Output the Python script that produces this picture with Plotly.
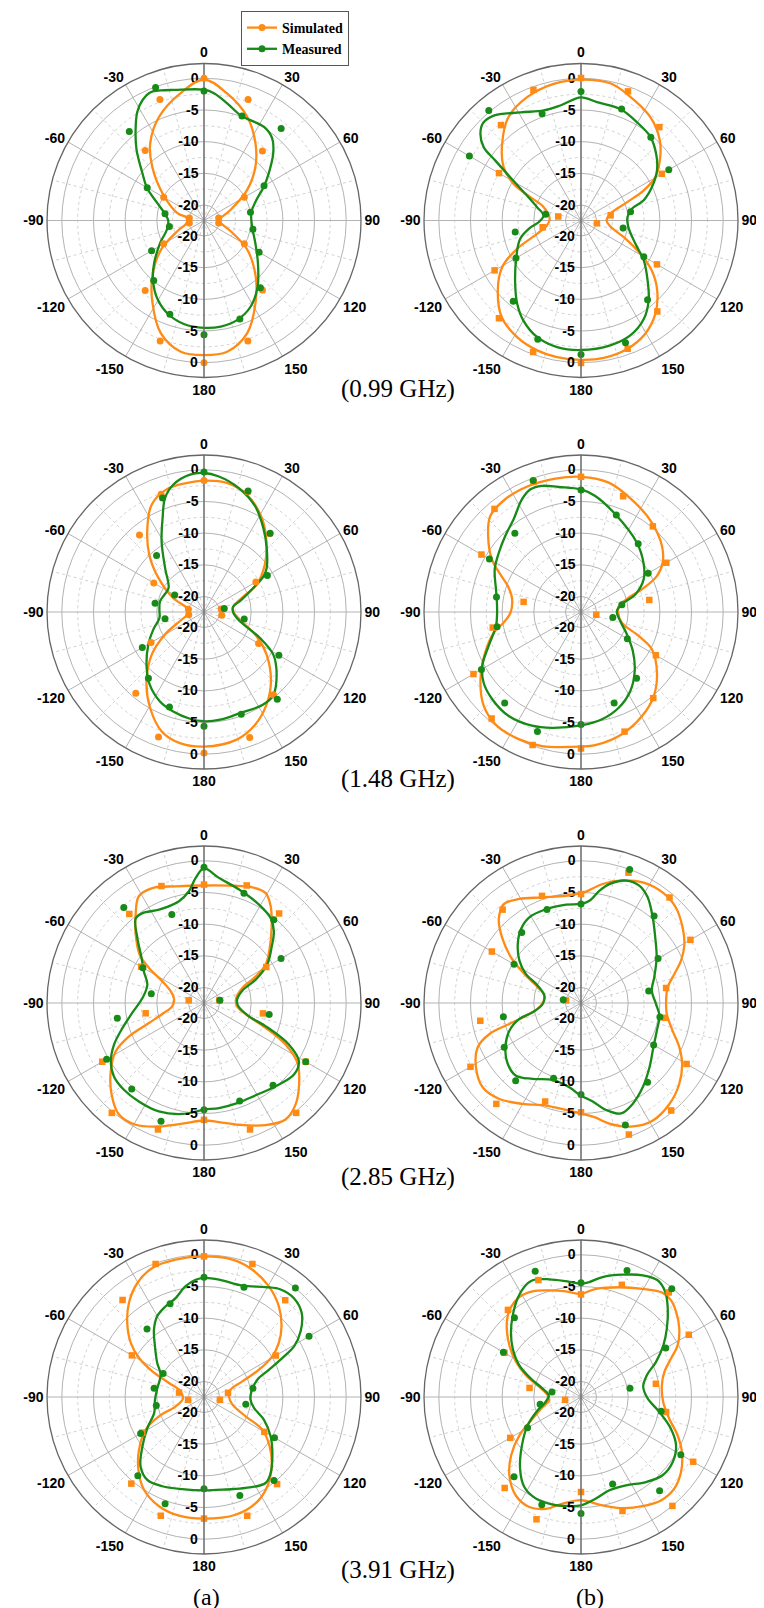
import plotly.graph_objects as go

# ---------------- data (theta in degrees, clockwise from top; r in dB) ----------------
MARK_T = [0, 20, 40, 60, 80, 100, 120, 140, 160, 180, 200, 220, 240, 260, 280, 300, 320, 340]
ANG_T = [0, 30, 60, 90, 120, 150, 180, 210, 240, 270, 300, 330]
ANG_L = ["0", "30", "60", "90", "120", "150", "180", "-150", "-120", "-90", "-60", "-30"]
RAD_T = [-20, -15, -10, -5, 0]
RAD_L = ["-20", "-15", "-10", "-5", "0"]
RAD_MINOR = [-17.5, -12.5, -7.5, -2.5]
ANG_MINOR = [15, 45, 75, 105, 135, 165, 195, 225, 255, 285, 315, 345]
CAPTIONS = ["(0.99 GHz)", "(1.48 GHz)", "(2.85 GHz)", "(3.91 GHz)"]
COL_LABELS = ["(a)", "(b)"]

# ---- 0.99 GHz, (a)
A1_SIM_T = [0, 10, 22.6, 33.7, 43.7, 54.7, 68, 80, 90, 100, 112, 124, 137.3, 148, 159, 170, 180,
            -170, -159, -148, -137, -124, -112, -100, -90, -80, -74.6, -56.7, -43.7, -34.9, -23.4, -10.4, 0]
A1_SIM_R = [-0.2, -2.0, -4.7, -7.8, -10.7, -14.1, -17.9, -19.7, -20.2, -19.7, -17.9, -14.2, -10.4, -7.1, -3.4, -1.4, -1.2,
            -1.4, -3.4, -7.1, -10.5, -14.3, -17.9, -19.6, -19.8, -19.6, -18.1, -14.6, -10.6, -7.6, -4.6, -2.0, -0.2]
A1_SIM_M = [0.0, -2.1, -8.1, -15.1, -20.1, -20.1, -15.1, -8.1, -2.2, 0.0, -2.2, -8.0, -15.1, -20.1, -20.1, -15.1, -8.0, -2.1]
A1_MEA_T = [0, 4.5, 11.2, 19.6, 32.7, 39.7, 45.8, 53.9, 60.5, 70, 81, 97, 113.7, 128.3, 141, 151.5, 161.4, 171, 180,
            -169, -158.4, -149, -139.3, -130.5, -117, -104, -90, -79.4, -69.6, -60.3, -52.5, -43.6, -37, -31.5, -27, -22.6, -18.4, -12.9, 0]
A1_MEA_R = [-1.8, -2.3, -3.6, -4.9, -4.9, -5.6, -7.2, -9.8, -11.6, -13.8, -14.9, -14.8, -13.6, -11.6, -9.0, -7.0, -5.9, -5.5, -5.5,
            -5.8, -6.7, -8.1, -10.1, -12.1, -14.7, -16.4, -16.8, -16.1, -14.6, -12.1, -10.2, -7.0, -4.5, -2.3, -1.1, -0.5, -0.8, -1.3, -1.8]
A1_MEA_M = [-2.0, -4.9, -3.5, -11.5, -15.0, -14.6, -12.4, -8.6, -5.9, -4.4, -6.7, -10.1, -12.9, -16.9, -16.2, -12.1, -4.1, -0.1]

# ---- 0.99 GHz, (b)
B1_SIM_T = [0, 12, 20, 33.9, 44.5, 52.7, 59.8, 64.4, 68.3, 77, 90, 101.6, 111.3, 119.3, 125.2, 132.6, 141.5, 150.4, 160.3, 170.6, 180,
            -170, -161.3, -151.3, -140.7, -130, -120.6, -113.9, -106.9, -98.4, -87, -70.3, -65.3, -61.4, -55.4, -45.9, -35, -23.6, -11.3, 0]
B1_SIM_R = [-0.2, -0.3, -1.2, -2.8, -4.7, -6.8, -8.9, -11.5, -14.6, -17.7, -18.4, -17.7, -15.2, -11.7, -8.8, -6.1, -3.6, -1.9, -0.9, -0.45, -0.45,
            -0.55, -0.8, -1.45, -2.7, -5.3, -8.0, -11.4, -15.2, -17.0, -17.5, -16.2, -13.7, -10.3, -7.6, -5.1, -2.5, -1.2, -0.45, -0.2]
B1_SIM_M = [0.05, -0.75, -3.2, -7.7, -17.7, -19.9, -8.6, -3.7, -0.9, 0.05, -0.35, -2.3, -6.7, -16.3, -18.8, -7.5, -2.8, -0.5]
B1_MEA_T = [0, 7.7, 19.4, 29.7, 39.8, 48.5, 56.7, 64.9, 72.3, 77.1, 86, 98, 113.2, 122.5, 132, 139.8, 147.5, 156.8, 166.8, 180,
            -169.3, -159.3, -150.2, -142.5, -134, -119.6, -106.8, -99, -92, -82.4, -73.1, -64.4, -58.5, -55, -53, -49.3, -45.2, -39.8, -29.2, -18.7, -10.2, 0]
B1_MEA_R = [-3.0, -3.6, -3.8, -4.6, -5.3, -6.6, -8.1, -10.1, -12.1, -14.2, -15.1, -14.9, -13.1, -10.7, -8.3, -5.9, -4.0, -2.7, -2.2, -2.0,
            -2.1, -2.8, -4.2, -5.9, -8.0, -10.7, -12.4, -14.1, -15.8, -16.5, -15.2, -12.7, -9.3, -5.9, -3.2, -1.5, -0.65, -0.9, -2.9, -4.1, -4.0, -3.0]
B1_MEA_M = [-2.1, -3.7, -5.3, -6.45, -14.5, -15.7, -11.0, -6.1, -1.9, -1.3, -2.5, -5.8, -10.6, -11.9, -16.8, -2.1, 0.2, -4.5]

# ---- 1.48 GHz, (a)
A2_SIM_T = [0, 10, 20, 31.5, 41.6, 52.2, 62.6, 69.6, 80.3, 90, 102, 114.8, 124.2, 136.1, 146, 155.6, 165.6, 180,
            -169.6, -160.5, -150.6, -140.4, -129.2, -120, -109, -94, -77, -65.5, -53.3, -43.6, -34, -26, -17, -7.7, 0]
A2_SIM_R = [-1.7, -1.75, -2.7, -5.0, -7.6, -10.3, -13.1, -16.1, -17.8, -17.8, -16.7, -13.3, -10.5, -7.2, -4.8, -2.9, -1.65, -1.2,
            -1.4, -2.45, -5.1, -8.2, -11.8, -15.3, -18.7, -20.0, -19.7, -17.1, -13.5, -9.9, -6.45, -3.6, -2.2, -1.9, -1.7]
A2_SIM_M = [-1.7, -2.25, -6.3, -13.0, -19.7, -19.6, -12.5, -5.4, -1.35, -0.2, -1.45, -5.7, -12.8, -20.0, -19.95, -13.3, -6.6, -2.65]
A2_MEA_T = [0, 6, 15.5, 25.8, 35.2, 44.4, 54.9, 59, 64, 71.9, 80.3, 92, 104.5, 114.9, 121.6, 130.8, 140, 147.4, 160.4, 171.5, 180,
            -172.5, -162.8, -153.8, -143.4, -134.3, -120.4, -109, -97.7, -87, -76.4, -67.4, -56, -41.6, -31, -23.7, -18.9, -13.5, -5.8, 0]
A2_MEA_R = [-0.5, -0.9, -2.1, -3.9, -6.2, -8.3, -10.35, -11.5, -13.8, -16.2, -17.8, -17.8, -16.6, -12.7, -9.6, -7.3, -5.4, -5.1, -5.5, -5.25, -5.2,
            -5.45, -6.0, -6.7, -8.1, -9.8, -12.25, -14.0, -15.35, -15.4, -15.3, -15.6, -15.7, -13.2, -9.45, -6.2, -3.45, -1.75, -0.65, -0.5]
A2_MEA_M = [-0.35, -2.1, -6.2, -10.9, -19.2, -16.0, -8.8, -4.45, -5.25, -4.4, -6.5, -8.8, -11.2, -16.2, -14.6, -17.1, -10.8, -3.3]

# ---- 1.48 GHz, (b)
B2_SIM_T = [0, 12.1, 26.4, 38.5, 50.8, 58.9, 64.7, 69.6, 73.3, 81, 90, 104.6, 112.6, 117.7, 128.6, 139.1, 149.6, 161.5, 173.9, 180,
            -163.8, -153.9, -143.6, -134, -123.8, -113, -103.3, -97.9, -90.8, -79.6, -71.4, -65, -59.4, -50.7, -43.4, -33.9, -22.6, -10.9, 0]
B2_SIM_R = [-1.1, -1.55, -3.2, -4.45, -5.95, -7.4, -9.2, -12.2, -14.6, -16.4, -16.6, -15.8, -12.6, -9.8, -7.1, -4.9, -3.4, -2.1, -1.3, -1.2,
            -0.4, -0.1, -0.1, -1.1, -3.35, -6.0, -8.3, -10.1, -11.3, -11.4, -10.4, -8.4, -6.1, -3.5, -1.6, -1.0, -0.9, -1.0, -1.1]
B2_SIM_M = [-1.1, -3.0, -4.8, -6.9, -11.5, -20.0, -8.8, -4.7, -2.35, -0.9, -0.1, -0.5, -2.85, -8.3, -13.25, -4.3, -1.2, -0.6]
B2_MEA_T = [0, 7, 19.4, 38.9, 52.7, 62.5, 72, 79.4, 89, 102.9, 115.9, 127, 137.7, 148, 158.5, 168.9, 180,
            -166, -156.7, -145.2, -134.5, -126, -118.6, -110.2, -99.4, -90.5, -81.4, -75, -63.7, -54.2, -44.9, -36, -27.6, -22.4, -17.2, -10.1, 0]
B2_MEA_R = [-3.1, -4.0, -6.1, -8.4, -10.0, -11.3, -13.4, -15.9, -16.8, -16.1, -14.4, -12.2, -9.85, -7.75, -6.2, -5.2, -4.55,
            -3.6, -2.9, -2.45, -2.8, -3.45, -4.7, -6.9, -8.85, -9.2, -9.0, -8.55, -7.25, -6.45, -5.5, -4.35, -2.35, -1.5, -1.6, -2.4, -3.1]
B2_MEA_M = [-3.2, -6.15, -8.4, -10.2, -15.9, -17.35, -14.0, -8.8, -7.15, -4.7, -2.35, -3.7, -4.3, -9.0, -8.9, -5.75, -6.2, -0.35]

# ---- 2.85 GHz, (a)
A3_SIM_T = [0, 13.6, 22.7, 29.3, 34.6, 42, 50, 58.1, 63.4, 68.6, 81.2, 95.7, 104.8, 112, 117, 122.7, 130.7, 138, 145, 153.2, 164, 172.8, 180,
            -169.8, -160, -150.7, -142.7, -134.8, -126.2, -118.7, -114, -110, -104, -96, -83.7, -70.7, -62.5, -57.5, -53.1, -45, -37.7, -31.4, -24.2, -13.6, 0]
A3_SIM_R = [-3.9, -3.4, -2.65, -2.55, -3.9, -6.5, -8.9, -11.0, -13.6, -15.95, -17.3, -17.2, -15.7, -11.9, -8.0, -4.9, -2.65, -0.85, 0.0, -0.85, -2.45, -3.5, -3.9,
            -3.1, -1.7, -0.4, -0.3, -1.9, -4.2, -6.55, -9.5, -13.2, -15.9, -17.4, -17.7, -16.9, -15.05, -12.15, -9.75, -7.2, -4.8, -2.7, -2.55, -3.5, -3.9]
A3_SIM_M = [-3.75, -2.7, -4.0, -11.1, -20.0, -13.0, -3.9, 0.2, -1.2, -4.0, -1.2, 0.2, -3.9, -13.1, -20.0, -11.0, -4.1, -2.8]
A3_MEA_T = [0, 6.8, 17.2, 29.2, 38.1, 44.3, 50.1, 58.8, 65.7, 72.2, 84.3, 95.5, 106.5, 110.7, 116.1, 121.6, 128.5, 139.3, 150.8, 161.6, 171.9, 180,
            -169, -157.4, -146.5, -137.3, -129.2, -122, -114.8, -107, -97.9, -85.4, -72.1, -62.2, -54.2, -45.7, -39, -34.4, -25.7, -13.8, -7.7, -3.8, 0]
A3_MEA_R = [-1.2, -2.55, -3.7, -4.65, -5.4, -6.65, -8.5, -10.8, -13.5, -16.1, -17.2, -17.0, -15.05, -12.0, -7.5, -4.85, -4.3, -5.1, -5.75, -5.8, -5.7, -5.6,
            -4.6, -3.9, -3.8, -3.8, -4.1, -5.1, -6.8, -9.0, -11.0, -12.7, -13.05, -11.7, -10.3, -7.75, -5.3, -5.25, -6.1, -5.9, -4.65, -2.65, -1.2]
A3_MEA_M = [-1.0, -4.0, -5.3, -8.4, -19.9, -12.0, -3.9, -5.5, -6.0, -5.6, -2.6, -4.7, -4.7, -8.55, -14.0, -11.3, -2.75, -7.6]

# ---- 2.85 GHz, (b)
B3_SIM_T = [0, 2.6, 10.3, 18.8, 27.1, 36.4, 44.8, 53.3, 60.3, 67.1, 72.7, 79.8, 88.4, 97.3, 106.8, 114.3, 121.1, 129.5, 138.8, 148.7, 158, 166.8, 173.3, 180,
            -172, -161.2, -150, -139.6, -130.6, -121.5, -113.2, -108.7, -106.3, -102, -93.8, -78.7, -70.1, -62.9, -56.9, -50.3, -44.4, -37.8, -30.7, -20, -8, 0]
B3_SIM_R = [-5.1, -4.85, -3.35, -2.0, -1.05, -0.75, -1.2, -2.45, -3.65, -5.3, -7.0, -8.55, -9.0, -8.8, -7.35, -5.4, -3.8, -2.35, -1.25, -0.7, -1.4, -2.9, -4.3, -5.0,
            -5.4, -5.35, -4.05, -2.55, -2.0, -3.0, -4.7, -7.2, -10.65, -14.1, -16.1, -16.55, -15.2, -12.4, -9.25, -6.25, -3.9, -2.65, -3.35, -4.7, -5.35, -5.1]
B3_SIM_M = [-5.25, -0.55, -0.7, -2.5, -8.8, -9.0, -3.2, -0.3, -0.35, -5.2, -5.9, -1.65, -2.3, -6.3, -20.05, -6.2, -3.2, -4.45]
B3_MEA_T = [0, 4.7, 9.3, 13.4, 20.2, 26.4, 32.2, 39.9, 48.5, 58.9, 70.7, 80.1, 90.8, 99.2, 110.1, 121.5, 133.3, 143.8, 152.9, 160.1, 166.8, 173.2, 180,
            -172.1, -159.8, -147.5, -138.2, -129.8, -120.4, -111.1, -104.5, -100.9, -91.5, -78.7, -68.2, -62.2, -55.5, -47, -39, -31.1, -20.5, -8.7, 0]
B3_MEA_R = [-6.8, -6.25, -4.5, -3.15, -1.85, -1.75, -2.7, -4.8, -6.8, -8.5, -10.2, -11.1, -10.6, -9.9, -9.7, -9.05, -7.6, -5.95, -4.55, -3.9, -5.1, -6.8, -7.8,
            -9.0, -9.5, -8.25, -7.05, -7.4, -8.6, -10.35, -12.4, -14.7, -16.4, -16.55, -15.1, -12.6, -10.65, -8.8, -7.4, -6.65, -6.65, -6.75, -6.8]
B3_MEA_M = [-6.8, 0.0, -4.5, -8.4, -11.6, -9.8, -9.2, -6.1, -1.95, -8.0, -9.8, -6.4, -8.45, -10.0, -19.6, -10.25, -7.9, -6.75]

# ---- 3.91 GHz, (a)
A4_SIM_T = [0, 11.7, 20.8, 30.4, 39.6, 47.7, 54.2, 59.2, 63.6, 67.8, 74.6, 90, 105.1, 114.9, 119.2, 126.9, 135.7, 144.7, 154, 165, 180,
            -168.1, -157.6, -147.1, -137.9, -129, -119.2, -113.3, -108.2, -94.5, -76.3, -68.2, -63.6, -59, -53.6, -46, -38.6, -30.3, -21.8, -11.7, 0]
A4_SIM_R = [-0.25, -0.3, -0.95, -2.2, -3.9, -5.9, -7.9, -9.9, -12.75, -15.9, -18.1, -18.5, -17.8, -15.2, -11.9, -9.5, -7.15, -5.15, -3.8, -3.2, -3.25,
            -3.3, -3.8, -5.0, -7.0, -9.25, -11.9, -14.7, -17.75, -19.1, -18.65, -16.5, -13.35, -10.5, -8.1, -5.6, -3.45, -1.6, -0.5, -0.3, -0.25]
A4_SIM_M = [-0.25, -0.1, -2.5, -9.35, -18.6, -19.9, -11.45, -4.5, -2.5, -3.25, -2.5, -4.6, -11.2, -19.9, -18.45, -9.3, -2.45, -0.1]
A4_MEA_T = [0, 7.3, 19, 29.3, 35.5, 42.3, 49.3, 55.8, 60.6, 63.5, 67.2, 72, 83.2, 93.3, 102.4, 110.7, 120.5, 129.3, 138.7, 144.4, 155.4, 166.8, 180,
            -166.7, -155, -145.6, -137.6, -128.7, -118.7, -107.7, -93.1, -79.1, -62.7, -53.9, -44, -36.6, -30, -22.9, -16, -9.4, -4.1, 0]
A4_MEA_R = [-3.65, -3.75, -3.85, -2.55, -1.6, -1.35, -2.1, -4.0, -6.1, -8.6, -11.3, -13.6, -14.9, -15.1, -14.35, -12.35, -10.25, -8.5, -6.5, -5.75, -6.65, -7.45, -7.7,
            -7.5, -6.9, -6.6, -7.6, -10.0, -12.25, -14.2, -14.7, -14.95, -14.75, -13.3, -11.3, -9.2, -7.7, -6.9, -6.2, -4.7, -3.9, -3.65]
A4_MEA_M = [-3.55, -4.0, 0.0, -3.3, -14.6, -15.75, -9.6, -5.25, -5.9, -7.95, -4.5, -6.2, -10.9, -14.8, -14.45, -15.0, -8.45, -6.8]

# ---- 3.91 GHz, (b)
B4_SIM_T = [0, 7.9, 19.2, 29.6, 38, 43, 48.2, 55.2, 61.9, 66.9, 73.3, 81.8, 93.5, 103.8, 111.6, 118.6, 126.9, 134.5, 142.3, 150.5, 159.4, 168.7, 180,
            -170.2, -162.6, -154.8, -146.5, -137.5, -129.8, -121.9, -114.1, -104.6, -96, -87.1, -76.5, -68.5, -61.7, -54.2, -44.7, -37.9, -31.7, -24.6, -16.5, -8.1, 0]
B4_SIM_R = [-6.15, -5.2, -4.1, -2.8, -1.55, -1.6, -2.3, -3.55, -5.15, -7.0, -8.7, -9.55, -9.45, -8.1, -6.05, -4.3, -2.7, -1.8, -1.8, -2.65, -3.7, -5.0, -6.15,
            -5.35, -3.95, -3.25, -3.8, -5.7, -8.1, -11.0, -14.1, -16.2, -17.4, -17.2, -15.7, -13.1, -10.8, -8.5, -5.8, -4.45, -3.9, -4.1, -4.9, -5.6, -6.15]
B4_SIM_M = [-6.25, -3.6, -0.9, -2.8, -10.45, -8.8, -2.0, 0.0, -3.3, -7.45, -1.9, -3.7, -9.55, -19.9, -14.2, -8.5, -4.5, -2.8]
B4_MEA_T = [0, 4.1, 10.2, 18.8, 26.9, 33.3, 38.8, 44.5, 51.4, 57.9, 65, 71.7, 80.9, 91.4, 100.8, 109.4, 117, 125.3, 133.8, 142.6, 153, 163.1, 171.6, 180,
            -172.2, -165.3, -156.1, -147.8, -139.6, -129.3, -118, -107.1, -98, -87, -77.7, -69.9, -62.8, -54.7, -47.1, -39.9, -32.8, -27.3, -22.5, -15.1, -7.4, 0]
B4_MEA_R = [-4.55, -4.25, -3.2, -2.05, -0.9, -0.4, -1.2, -2.9, -5.1, -7.1, -9.4, -11.5, -12.5, -11.9, -9.85, -7.4, -5.6, -4.7, -4.6, -5.55, -6.8, -7.05, -6.25, -5.35,
            -5.1, -4.9, -4.9, -5.65, -7.6, -10.4, -12.9, -15.3, -16.8, -17.35, -16.25, -14.05, -11.5, -9.25, -7.35, -5.65, -3.95, -2.9, -2.5, -3.2, -4.0, -4.55]
B4_MEA_M = [-4.4, -1.2, -0.15, -7.0, -14.6, -9.6, -4.25, -3.15, -7.85, -4.05, -4.35, -6.0, -12.7, -15.9, -17.8, -8.3, -6.1, -1.3]

PANELS = [
    (A1_SIM_T, A1_SIM_R, A1_SIM_M, A1_MEA_T, A1_MEA_R, A1_MEA_M, "circle"),
    (B1_SIM_T, B1_SIM_R, B1_SIM_M, B1_MEA_T, B1_MEA_R, B1_MEA_M, "square"),
    (A2_SIM_T, A2_SIM_R, A2_SIM_M, A2_MEA_T, A2_MEA_R, A2_MEA_M, "circle"),
    (B2_SIM_T, B2_SIM_R, B2_SIM_M, B2_MEA_T, B2_MEA_R, B2_MEA_M, "square"),
    (A3_SIM_T, A3_SIM_R, A3_SIM_M, A3_MEA_T, A3_MEA_R, A3_MEA_M, "square"),
    (B3_SIM_T, B3_SIM_R, B3_SIM_M, B3_MEA_T, B3_MEA_R, B3_MEA_M, "square"),
    (A4_SIM_T, A4_SIM_R, A4_SIM_M, A4_MEA_T, A4_MEA_R, A4_MEA_M, "square"),
    (B4_SIM_T, B4_SIM_R, B4_SIM_M, B4_MEA_T, B4_MEA_R, B4_MEA_M, "square"),
]

# ---------------- styling / layout ----------------
W, H = 764, 1608
CX = [196, 573]
CY = [212.5, 604, 995, 1389]
RPX = 157
RMIN, RMAX = -22.45, 2.34
ORANGE = "#ff8a14"
GREEN = "#178a17"
GRID = "#b3b3b3"
MINOR = "#d2d2d2"
AXLINE = "#666666"
TICKFONT = dict(family="Liberation Sans, Arial", size=14, color="black", weight="bold")


def dom(cx, cy):
    return dict(x=[(cx - RPX) / W, (cx + RPX) / W], y=[1 - (cy + RPX) / H, 1 - (cy - RPX) / H])


def pname(k):
    return "polar" if k == 1 else "polar%d" % k


fig = go.Figure()
layout = {}
n = len(PANELS)
for i, (st, sr, sm, mt, mr, mm, ssym) in enumerate(PANELS):
    row, col = divmod(i, 2)
    d = dom(CX[col], CY[row])
    k1 = i + 1            # minor grid layer
    k2 = i + 1 + n        # major grid + labels
    k3 = i + 1 + 2 * n    # lower radial labels + data
    layout[pname(k1)] = dict(
        domain=d, bgcolor="white",
        angularaxis=dict(direction="clockwise", rotation=90, tickmode="array", tickvals=ANG_MINOR,
                         showticklabels=False, showgrid=True, gridcolor=MINOR, griddash="dot",
                         showline=False, ticks=""),
        radialaxis=dict(range=[RMIN, RMAX], tickmode="array", tickvals=RAD_MINOR, showticklabels=False,
                        showgrid=True, gridcolor=MINOR, griddash="dot", showline=False, ticks=""),
    )
    layout[pname(k2)] = dict(
        domain=d, bgcolor="rgba(0,0,0,0)",
        angularaxis=dict(direction="clockwise", rotation=90, tickmode="array", tickvals=ANG_T, ticktext=ANG_L,
                         showgrid=True, gridcolor=GRID, gridwidth=1, showline=True, linecolor=AXLINE,
                         linewidth=1.3, ticks="", tickfont=TICKFONT),
        radialaxis=dict(range=[RMIN, RMAX], tickmode="array", tickvals=RAD_T, ticktext=RAD_L, angle=90,
                        tickangle=90, side="counterclockwise", showgrid=True, gridcolor=GRID, gridwidth=1,
                        showline=True, linecolor=AXLINE, linewidth=1.3, ticks="", tickfont=TICKFONT),
    )
    layout[pname(k3)] = dict(
        domain=d, bgcolor="rgba(0,0,0,0)",
        angularaxis=dict(direction="clockwise", rotation=90, showticklabels=False, showgrid=False,
                         showline=False, ticks=""),
        radialaxis=dict(range=[RMIN, RMAX], tickmode="array", tickvals=RAD_T, ticktext=RAD_L, angle=270,
                        tickangle=-90, side="clockwise", showgrid=False, showline=True, linecolor=AXLINE,
                        linewidth=1.3, ticks="", tickfont=TICKFONT),
    )
    # empty traces so the grid layers get drawn
    for k in (k1, k2):
        fig.add_trace(go.Scatterpolar(r=[None], theta=[None], mode="markers", subplot=pname(k),
                                      showlegend=False, hoverinfo="skip"))
    sp = pname(k3)
    fig.add_trace(go.Scatterpolar(r=sr, theta=st, mode="lines", line=dict(color=ORANGE, width=2.3, shape="spline"),
                                  subplot=sp, showlegend=False, hoverinfo="skip"))
    fig.add_trace(go.Scatterpolar(r=mr, theta=mt, mode="lines", line=dict(color=GREEN, width=2.3, shape="spline"),
                                  subplot=sp, showlegend=False, hoverinfo="skip"))
    fig.add_trace(go.Scatterpolar(r=sm, theta=MARK_T, mode="markers",
                                  marker=dict(color=ORANGE, size=7 if ssym == "circle" else 6.5, symbol=ssym),
                                  subplot=sp, showlegend=False))
    fig.add_trace(go.Scatterpolar(r=mm, theta=MARK_T, mode="markers",
                                  marker=dict(color=GREEN, size=7, symbol="circle"),
                                  subplot=sp, showlegend=False))

# legend entries
fig.add_trace(go.Scatterpolar(r=[None], theta=[None], mode="lines+markers", name="Simulated",
                              line=dict(color=ORANGE, width=2.3), marker=dict(color=ORANGE, size=7),
                              subplot=pname(1 + 2 * n)))
fig.add_trace(go.Scatterpolar(r=[None], theta=[None], mode="lines+markers", name="Measured",
                              line=dict(color=GREEN, width=2.3), marker=dict(color=GREEN, size=7),
                              subplot=pname(1 + 2 * n)))

annotations = []
CAP_Y = [381, 771, 1169, 1562]
for cap, y in zip(CAPTIONS, CAP_Y):
    annotations.append(dict(text=cap, x=390 / W, y=1 - y / H, xref="paper", yref="paper", showarrow=False,
                            xanchor="center", yanchor="middle",
                            font=dict(family="Liberation Serif, Times New Roman", size=25, color="black")))
for lab, x in zip(COL_LABELS, [198, 582]):
    annotations.append(dict(text=lab, x=x / W, y=1 - 1589 / H, xref="paper", yref="paper", showarrow=False,
                            xanchor="center", yanchor="middle",
                            font=dict(family="Liberation Serif, Times New Roman", size=24, color="black")))

fig.update_layout(
    width=W, height=H, margin=dict(l=0, r=0, t=0, b=0),
    paper_bgcolor="white", plot_bgcolor="white",
    showlegend=True,
    legend=dict(x=233 / W, y=1 - 3 / H, xanchor="left", yanchor="top", bgcolor="white",
                bordercolor="#555555", borderwidth=1, tracegroupgap=0, itemwidth=30,
                font=dict(family="Liberation Serif, Times New Roman", size=14, color="black", weight="bold")),
    annotations=annotations,
    **layout,
)

fig.write_html("out.html")
